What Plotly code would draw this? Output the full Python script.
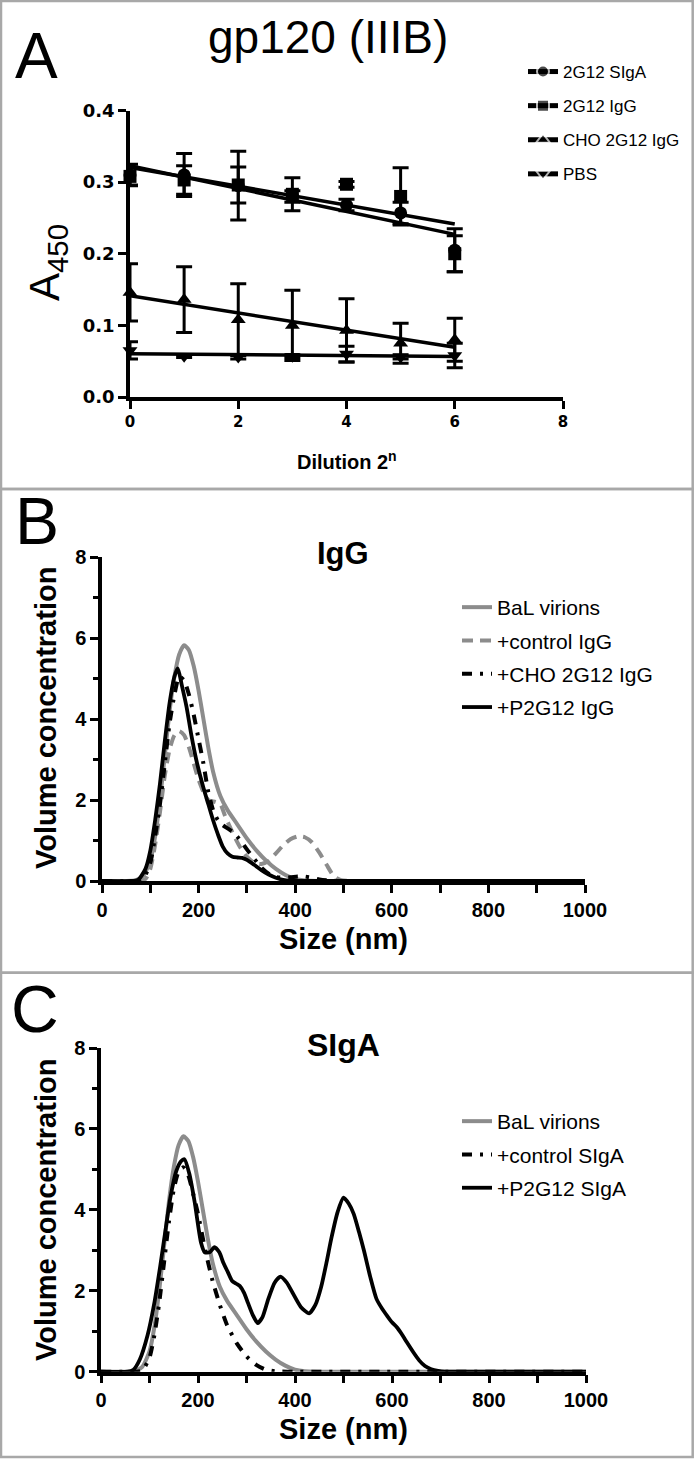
import numpy as np
import plotly.graph_objects as go

# ---------------- Panel A data (ELISA, gp120 IIIB) ----------------
dilution = [0, 1, 2, 3, 4, 5, 6]
sIgA_mean = [0.31, 0.31, 0.295, 0.28, 0.268, 0.257, 0.205]
sIgA_err = [0.015, 0.03, 0.048, 0.008, 0.008, 0.015, 0.03]
igG_mean = [0.308, 0.303, 0.296, 0.283, 0.297, 0.28, 0.2]
igG_err = [0.012, 0.02, 0.025, 0.023, 0.004, 0.04, 0.025]
cho_mean = [0.146, 0.136, 0.108, 0.10, 0.093, 0.075, 0.08]
cho_err = [0.04, 0.046, 0.05, 0.049, 0.044, 0.028, 0.03]
pbs_mean = [0.065, 0.057, 0.056, 0.057, 0.06, 0.056, 0.058]
pbs_err = [0.012, 0.002, 0.003, 0.002, 0.011, 0.003, 0.017]

# ---------------- Panel B/C data (size distributions) ----------------
bal_size = [0, 50, 70, 85, 100, 110, 120, 130, 140, 150, 160, 170, 180, 190, 200, 210, 220, 230,
            245, 260, 280, 300, 320, 340, 360, 380, 400, 420, 450, 500, 600, 800, 1000]
bal_val = [0, 0, 0.02, 0.12, 0.5, 1.1, 2.0, 3.1, 4.2, 5.05, 5.6, 5.82, 5.7, 5.3, 4.7, 4.0, 3.3, 2.7,
           2.1, 1.75, 1.4, 1.05, 0.75, 0.5, 0.3, 0.15, 0.05, 0.01, 0, 0, 0, 0, 0]

ctrlIgG_size = [0, 70, 90, 100, 110, 120, 130, 140, 150, 160, 170, 180, 190, 200, 210, 220, 235, 245,
                255, 270, 285, 300, 315, 330, 345, 360, 375, 390, 405, 420, 435, 450, 465, 480, 495,
                520, 600, 800, 1000]
ctrlIgG_val = [0, 0, 0.05, 0.3, 0.9, 1.7, 2.6, 3.25, 3.6, 3.7, 3.6, 3.3, 2.9, 2.5, 2.2, 2.0, 1.95, 1.9,
               1.6, 1.2, 0.85, 0.6, 0.45, 0.42, 0.5, 0.68, 0.88, 1.03, 1.1, 1.08, 0.95, 0.7, 0.4, 0.12,
               0.02, 0, 0, 0, 0]

choIgG_size = [0, 70, 85, 100, 110, 120, 130, 140, 150, 160, 170, 180, 190, 200, 210, 220, 230, 240,
               250, 260, 270, 280, 290, 300, 315, 330, 345, 360, 375, 390, 405, 420, 435, 450, 470,
               500, 1000]
choIgG_val = [0, 0, 0.05, 0.45, 1.1, 1.9, 2.9, 3.9, 4.6, 5.05, 4.95, 4.6, 4.1, 3.5, 2.9, 2.2, 1.75, 1.5,
              1.38, 1.3, 1.22, 1.1, 0.95, 0.78, 0.55, 0.33, 0.18, 0.1, 0.08, 0.09, 0.11, 0.11, 0.08,
              0.04, 0.01, 0, 0]

p2IgG_size = [0, 60, 75, 90, 100, 110, 120, 130, 140, 150, 157, 165, 175, 185, 195, 210, 220, 230,
              240, 250, 260, 270, 280, 290, 300, 315, 330, 345, 360, 375, 390, 420, 500, 1000]
p2IgG_val = [0, 0, 0.03, 0.3, 0.75, 1.5, 2.4, 3.45, 4.4, 5.05, 5.25, 4.85, 4.3, 3.6, 3.0, 2.3, 1.9, 1.5,
             1.15, 0.85, 0.68, 0.6, 0.58, 0.57, 0.52, 0.4, 0.27, 0.16, 0.08, 0.03, 0.01, 0, 0, 0]

ctrlSIgA_size = [0, 70, 85, 100, 110, 120, 130, 140, 150, 160, 170, 180, 190, 200, 215, 230, 245, 260,
                 280, 300, 320, 340, 360, 400, 1000]
ctrlSIgA_val = [0, 0, 0.03, 0.35, 0.9, 1.7, 2.7, 3.7, 4.5, 4.95, 5.05, 4.85, 4.4, 3.9, 3.0, 2.25, 1.65,
                1.15, 0.7, 0.38, 0.17, 0.05, 0.01, 0, 0]

p2SIgA_size = [0, 55, 67, 80, 96, 110, 122, 133, 143, 155, 165, 172, 182, 193, 206, 214, 224, 234, 244,
               252, 262, 270, 278, 286, 295, 303, 313, 323, 333, 345, 358, 370, 383, 395, 412, 429, 442,
               454, 465, 475, 488, 500, 511, 521, 532, 542, 555, 568, 580, 590, 600, 610, 620, 631, 644,
               656, 668, 681, 695, 710, 750, 1000]
p2SIgA_val = [0, 0, 0.05, 0.3, 0.9, 1.7, 2.6, 3.5, 4.3, 4.95, 5.2, 5.25, 4.9, 4.2, 3.2, 2.95, 2.95, 3.08,
              2.95, 2.7, 2.45, 2.25, 2.18, 2.12, 1.95, 1.7, 1.4, 1.2, 1.35, 1.8, 2.2, 2.35, 2.2, 1.95, 1.6,
              1.44, 1.65, 2.1, 2.7, 3.3, 3.95, 4.3, 4.15, 3.9, 3.45, 3.0, 2.35, 1.8, 1.55, 1.38, 1.22, 1.1,
              0.93, 0.72, 0.48, 0.28, 0.14, 0.06, 0.02, 0, 0, 0]

W, H = 694, 1459
def fx(px):
    return px / W
def fy(py):
    return 1 - py / H

BLACK = "#000000"
GRAY = "#8c8c8c"
TICKF = "Liberation Sans, Arial, sans-serif"

fig = go.Figure()

# ---------------- Panel A ----------------
seriesA = [
    ("2G12 SIgA", sIgA_mean, sIgA_err, "circle"),
    ("2G12 IgG", igG_mean, igG_err, "square"),
    ("CHO 2G12 IgG", cho_mean, cho_err, "triangle-up"),
    ("PBS", pbs_mean, pbs_err, "triangle-down"),
]
for name, mean, err, sym in seriesA:
    fig.add_trace(go.Scatter(
        x=dilution, y=mean, mode="markers", showlegend=False, cliponaxis=False,
        marker=dict(symbol=sym, size=13, color=BLACK),
        error_y=dict(type="data", array=err, visible=True, color=BLACK, thickness=3, width=8),
        xaxis="x", yaxis="y"))
    slope, intercept = np.polyfit(dilution, mean, 1)
    fx_line = np.array([dilution[0], dilution[-1]], dtype=float)
    fig.add_trace(go.Scatter(
        x=fx_line, y=slope * fx_line + intercept, mode="lines+markers", name=name,
        legend="legend", legendgroup=name, cliponaxis=False,
        line=dict(color=BLACK, width=3.5),
        marker=dict(symbol=sym, size=[0.01, 0.01], color=BLACK),
        xaxis="x", yaxis="y"))

# ---------------- Panel B ----------------
seriesB = [
    ("BaL virions", bal_size, bal_val, GRAY, "solid", 4),
    ("+control IgG", ctrlIgG_size, ctrlIgG_val, GRAY, "11px,7px", 4),
    ("+CHO 2G12 IgG", choIgG_size, choIgG_val, BLACK, "10px,8px,3px,8px", 4),
    ("+P2G12 IgG", p2IgG_size, p2IgG_val, BLACK, "solid", 3.8),
]
for name, xs, ys, col, dash, w in seriesB:
    fig.add_trace(go.Scatter(
        x=xs, y=ys, mode="lines", name=name, legend="legend2", legendgroup="B" + name,
        line=dict(color=col, width=w, dash=dash, shape="spline", smoothing=0.6),
        xaxis="x2", yaxis="y2"))

# ---------------- Panel C ----------------
seriesC = [
    ("BaL virions", bal_size, bal_val, GRAY, "solid", 4),
    ("+control SIgA", ctrlSIgA_size, ctrlSIgA_val, BLACK, "10px,8px,3px,8px", 4),
    ("+P2G12 SIgA", p2SIgA_size, p2SIgA_val, BLACK, "solid", 3.8),
]
for name, xs, ys, col, dash, w in seriesC:
    fig.add_trace(go.Scatter(
        x=xs, y=ys, mode="lines", name=name, legend="legend3", legendgroup="C" + name,
        line=dict(color=col, width=w, dash=dash, shape="spline", smoothing=0.6),
        xaxis="x3", yaxis="y3"))

axis_common = dict(showgrid=False, zeroline=False, showline=True, linecolor=BLACK, linewidth=3.5,
                   ticks="outside", tickcolor=BLACK, tickwidth=3, ticklen=8, mirror=False,
                   automargin=False)

fig.update_layout(
    width=W, height=H, margin=dict(l=0, r=0, t=0, b=0, autoexpand=False),
    paper_bgcolor="white", plot_bgcolor="white",
    xaxis=dict(domain=[fx(130), fx(563)], range=[0, 8], tickvals=[0, 2, 4, 6, 8], anchor="y",
               tickfont=dict(family="DejaVu Sans", size=15, color=BLACK, weight="bold"), **axis_common),
    yaxis=dict(domain=[fy(397), fy(110.5)], range=[0, 0.4], tickvals=[0, 0.1, 0.2, 0.3, 0.4],
               ticktext=["0.0", "0.1", "0.2", "0.3", "0.4"], anchor="x",
               tickfont=dict(family="DejaVu Sans", size=18, color=BLACK, weight="bold"), **axis_common),
    xaxis2=dict(domain=[fx(102), fx(585)], range=[0, 1000], dtick=200, tick0=0, anchor="y2",
                minor=dict(dtick=100, ticks="outside", ticklen=8, tickwidth=3, tickcolor=BLACK),
                tickfont=dict(family=TICKF, size=20, color=BLACK, weight="bold"), **axis_common),
    yaxis2=dict(domain=[fy(881), fy(557)], range=[0, 8], dtick=2, tick0=0, anchor="x2",
                minor=dict(dtick=1, ticks="outside", ticklen=5, tickwidth=3, tickcolor=BLACK),
                tickfont=dict(family=TICKF, size=20, color=BLACK, weight="bold"), **axis_common),
    xaxis3=dict(domain=[fx(101), fx(586)], range=[0, 1000], dtick=200, tick0=0, anchor="y3",
                minor=dict(dtick=100, ticks="outside", ticklen=8, tickwidth=3, tickcolor=BLACK),
                tickfont=dict(family=TICKF, size=20, color=BLACK, weight="bold"), **axis_common),
    yaxis3=dict(domain=[fy(1371.7), fy(1048)], range=[0, 8], dtick=2, tick0=0, anchor="x3",
                minor=dict(dtick=1, ticks="outside", ticklen=5, tickwidth=3, tickcolor=BLACK),
                tickfont=dict(family=TICKF, size=20, color=BLACK, weight="bold"), **axis_common),
    legend=dict(x=fx(523), y=fy(54), xanchor="left", yanchor="top", bgcolor="rgba(0,0,0,0)",
                font=dict(family=TICKF, size=17, color=BLACK), tracegroupgap=9, itemsizing="constant"),
    legend2=dict(x=fx(457), y=fy(587), xanchor="left", yanchor="top", bgcolor="rgba(0,0,0,0)",
                 font=dict(family=TICKF, size=21, color=BLACK), tracegroupgap=3),
    legend3=dict(x=fx(457), y=fy(1101), xanchor="left", yanchor="top", bgcolor="rgba(0,0,0,0)",
                 font=dict(family=TICKF, size=21, color=BLACK), tracegroupgap=3),
)

BORDER = "#a8a8a8"
for top, bot in [(1, 489), (489, 972.7), (972.7, 1457)]:
    fig.add_shape(type="rect", xref="paper", yref="paper", x0=fx(1), x1=fx(692.7),
                  y0=fy(bot), y1=fy(top), line=dict(color=BORDER, width=2.5), layer="below")

def ann(text, px, py, size, bold=False, angle=0, family=TICKF):
    fig.add_annotation(text=text, x=fx(px), y=fy(py), xref="paper", yref="paper", showarrow=False,
                       xanchor="center", yanchor="middle", textangle=angle,
                       font=dict(family=family, size=size, color=BLACK,
                                 weight="bold" if bold else "normal"))

ann("A", 36, 56, 64)
ann("B", 37, 521, 66)
ann("C", 35, 1009, 66)
ann("gp120 (IIIB)", 328, 37, 46)
ann("Dilution 2<sup>n</sup>", 347, 461, 20, bold=True)
ann("A<sub>450</sub>", 48, 263, 42, angle=-90)
ann("IgG", 343, 553, 31, bold=True)
ann("SIgA", 343, 1045, 32, bold=True)
ann("Size (nm)", 343, 939, 29, bold=True)
ann("Size (nm)", 343, 1429, 29, bold=True)
ann("Volume concentration", 46, 718, 29, bold=True, angle=-90)
ann("Volume concentration", 46, 1210, 29, bold=True, angle=-90)

fig.write_html("out.html", config={"displayModeBar": False},
               post_script="document.body.style.margin='0px';document.body.style.overflow='hidden';")
